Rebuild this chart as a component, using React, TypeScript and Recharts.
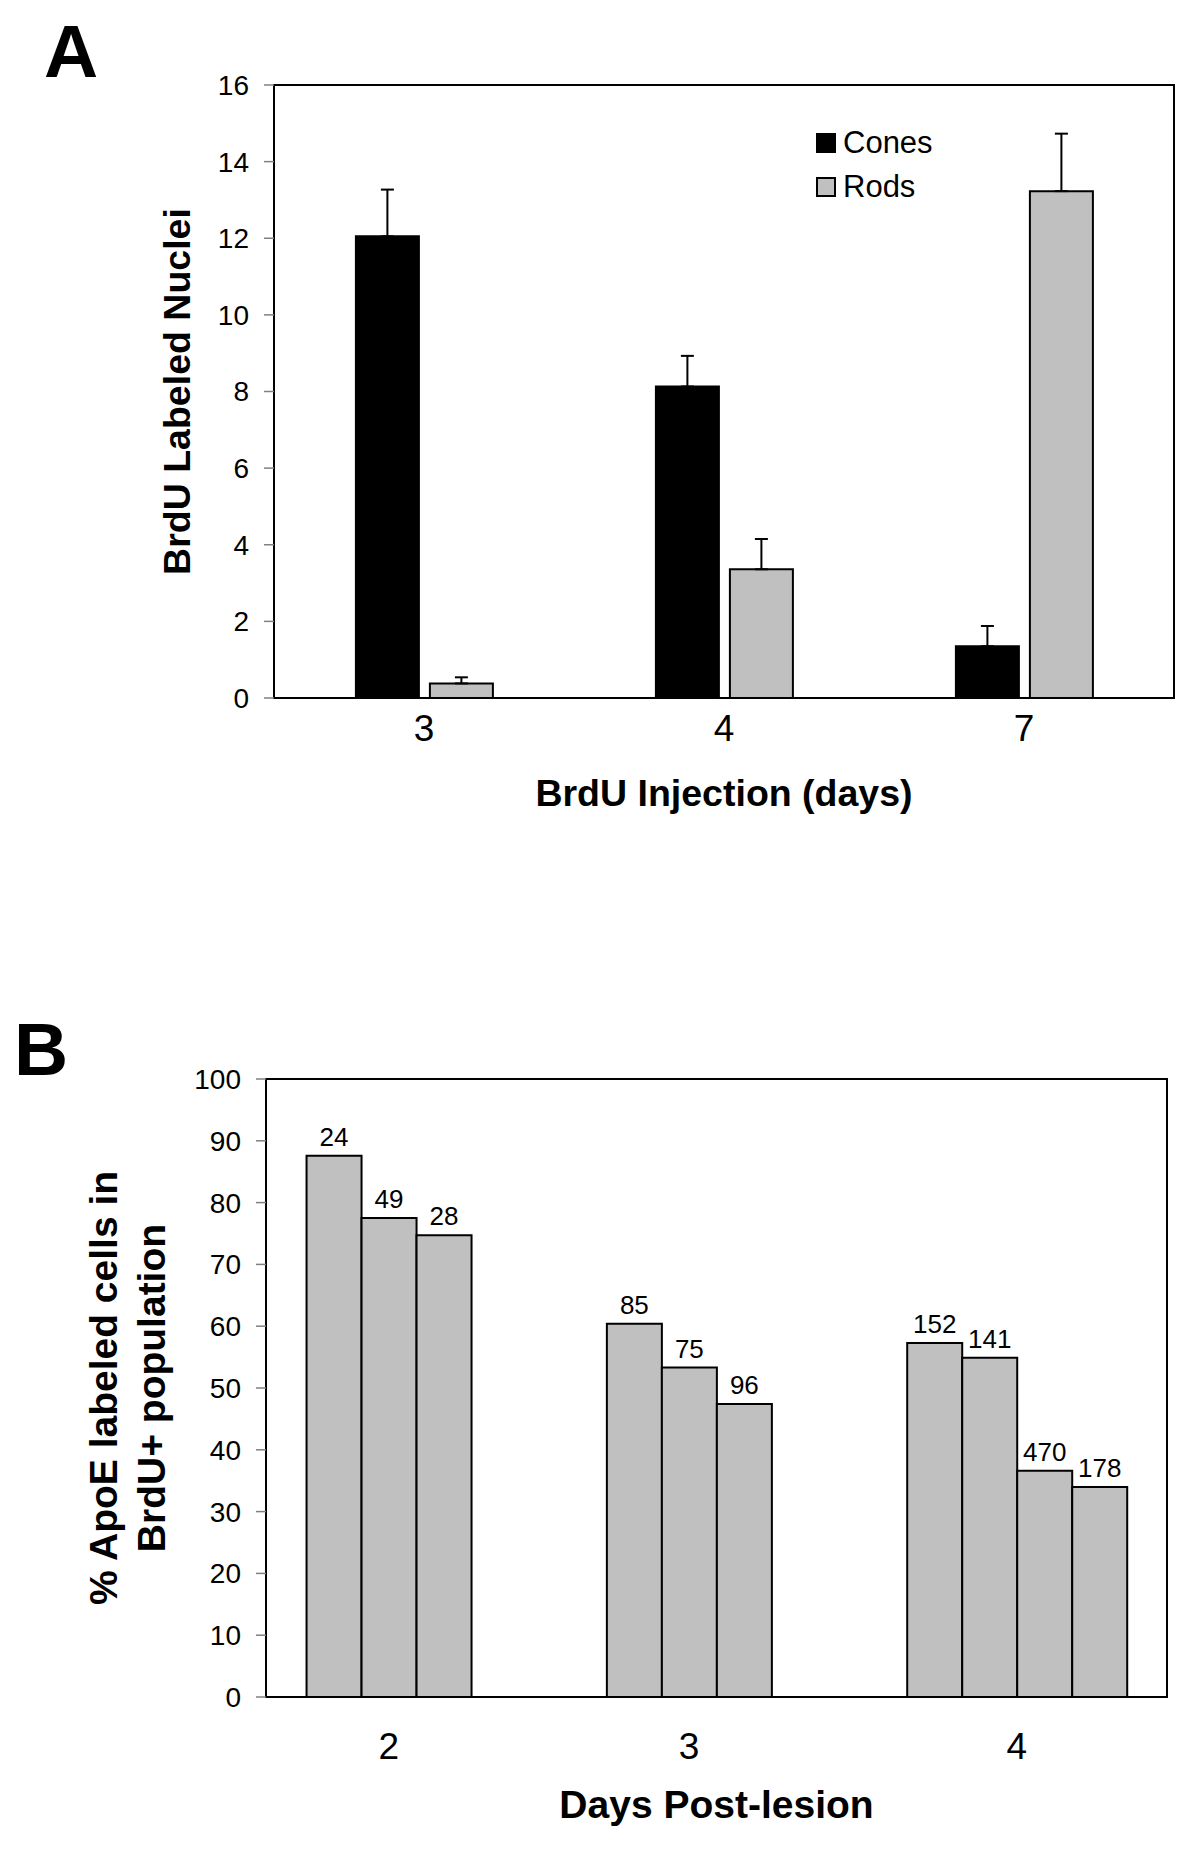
import React from 'react'
import {
  BarChart, Bar, XAxis, YAxis, ErrorBar, LabelList, Legend, ReferenceArea,
} from 'recharts'

const FONT = '"Liberation Sans", Arial, Helvetica, sans-serif'
const GRAY = '#c0c0c0'

// Panel A: BrdU labeled nuclei
const injectionDays = ['3', '4', '7']
const cones = [12.05, 8.13, 1.35]
const conesErr = [1.22, 0.8, 0.53]
const rods = [0.38, 3.36, 13.23]
const rodsErr = [0.16, 0.79, 1.5]
const ticksA = [0, 2, 4, 6, 8, 10, 12, 14, 16]

// Panel B: % ApoE labeled cells, n shown above each bar
const lesionDays = ['2', '3', '4']
const apoe1 = [87.6, 60.4, 57.3]
const apoe2 = [77.5, 53.3, 54.9]
const apoe3 = [74.7, 47.4, 36.6]
const apoe4 = [null, null, 34.0]
const n1 = [24, 85, 152]
const n2 = [49, 75, 141]
const n3 = [28, 96, 470]
const n4 = [null, null, 178]
const ticksB = [0, 10, 20, 30, 40, 50, 60, 70, 80, 90, 100]

const dataA = injectionDays.map((day, i) => ({
  day,
  cones: cones[i],
  conesErr: [0, conesErr[i]],
  rods: rods[i],
  rodsErr: [0, rodsErr[i]],
}))

const seriesB = [apoe1, apoe2, apoe3, apoe4]
const countsB = [n1, n2, n3, n4]
const dataB = lesionDays.map((day, i) => {
  const row: any = { day }
  seriesB.forEach((s, k) => {
    row[`p${k}`] = s[i]
    row[`n${k}`] = countsB[k][i]
  })
  return row
})
const barsPerDayB = lesionDays.map((_, i) => seriesB.filter((s) => s[i] != null).length)
const GAP_B = 0.135

const DayTickA = ({ x, y, payload }: any) => (
  <text x={x} y={y} dy="0.71em" textAnchor="middle" fontSize={37} fill="#000" fontFamily={FONT}>
    {payload.value}
  </text>
)

// labels sit under the bars actually drawn in each group
const DayTickB = ({ x, y, payload }: any) => {
  const band = (payload?.offset ?? 150) * 2
  const barW = (band * (1 - 2 * GAP_B)) / seriesB.length
  const idx = lesionDays.indexOf(String(payload.value))
  const shift = -((seriesB.length - (barsPerDayB[idx] ?? seriesB.length)) * barW) / 2
  return (
    <text x={x + shift} y={y} dy="0.71em" textAnchor="middle" fontSize={37} fill="#000" fontFamily={FONT}>
      {payload.value}
    </text>
  )
}

const xTitle = (text: string, dy: number, size: number) => (props: any) => {
  const vb = props.viewBox ?? props
  return (
    <text x={vb.x + vb.width / 2} y={vb.y + dy} textAnchor="middle" fontSize={size} fontWeight="bold" fill="#000" fontFamily={FONT}>
      {text}
    </text>
  )
}

const yTitle = (lines: string[], xs: number[], size: number) => (props: any) => {
  const vb = props.viewBox ?? props
  const cy = vb.y + vb.height / 2
  return (
    <g>
      {lines.map((t, i) => {
        const cx = vb.x + xs[i]
        return (
          <text key={i} x={cx} y={cy} transform={`rotate(-90 ${cx} ${cy})`} textAnchor="middle" fontSize={size} fontWeight="bold" fill="#000" fontFamily={FONT}>
            {t}
          </text>
        )
      })}
    </g>
  )
}

const LegendA = ({ payload }: any) => {
  const items = payload && payload.length
    ? payload.map((p: any) => ({ name: p.value, color: p.color }))
    : [{ name: 'Cones', color: '#000' }, { name: 'Rods', color: GRAY }]
  return (
    <div style={{ fontFamily: FONT, fontSize: 31, color: '#000' }}>
      {items.map((it: any) => (
        <div key={it.name} style={{ display: 'flex', alignItems: 'center', height: 44 }}>
          <span style={{ width: 20, height: 20, boxSizing: 'border-box', border: '2px solid #000', background: it.color, flexShrink: 0 }} />
          <span style={{ marginLeft: 7, lineHeight: '44px' }}>{it.name}</span>
        </div>
      ))}
    </div>
  )
}

const axisLine = { stroke: '#000', strokeWidth: 2 }
const yTickLine = { stroke: '#808080', strokeWidth: 1.5 }

export default function App() {
  return (
    <div style={{ position: 'relative', width: 1200, height: 1853, background: '#fff', fontFamily: FONT, overflow: 'hidden' }}>
      <style>{'body{margin:0}'}</style>

      <div style={{ position: 'absolute', left: 44, top: 13.5, fontSize: 75, fontWeight: 'bold', lineHeight: '75px' }}>A</div>
      <div style={{ position: 'absolute', left: 14, top: 1011.5, fontSize: 75, fontWeight: 'bold', lineHeight: '75px' }}>B</div>

      <div style={{ position: 'absolute', left: 0, top: 0 }}>
        <BarChart width={1200} height={860} data={dataA} margin={{ top: 85, right: 26, left: 0, bottom: 0 }} barCategoryGap="27.3%" barGap={11}>
          <ReferenceArea y1={0} y2={16} fill="none" stroke="#000" strokeWidth={2} />
          <XAxis dataKey="day" height={162} axisLine={axisLine} tickLine={false} tickSize={0} tickMargin={17} tick={DayTickA}
            label={xTitle('BrdU Injection (days)', 108, 37.5)} />
          <YAxis width={274} domain={[0, 16]} ticks={ticksA} interval={0} axisLine={axisLine} tickLine={yTickLine} tickSize={10} tickMargin={15}
            tick={{ fill: '#000', fontSize: 28, fontFamily: FONT }}
            label={yTitle(['BrdU Labeled Nuclei'], [190], 37.5)} />
          <Legend layout="vertical" align="center" verticalAlign="middle" content={LegendA}
            wrapperStyle={{ left: 816, top: 121, width: 200, height: 88 }} />
          <Bar dataKey="cones" name="Cones" fill="#000" stroke="#000" strokeWidth={2} isAnimationActive={false}>
            <ErrorBar dataKey="conesErr" width={6.5} stroke="#000" strokeWidth={2} direction="y" isAnimationActive={false} />
          </Bar>
          <Bar dataKey="rods" name="Rods" fill={GRAY} stroke="#000" strokeWidth={2} isAnimationActive={false}>
            <ErrorBar dataKey="rodsErr" width={6.5} stroke="#000" strokeWidth={2} direction="y" isAnimationActive={false} />
          </Bar>
        </BarChart>
      </div>

      <div style={{ position: 'absolute', left: 0, top: 900 }}>
        <BarChart width={1200} height={953} data={dataB} margin={{ top: 179, right: 33, left: 0, bottom: 0 }} barCategoryGap={`${GAP_B * 100}%`} barGap={0}>
          <ReferenceArea y1={0} y2={100} fill="none" stroke="#000" strokeWidth={2} />
          <XAxis dataKey="day" height={156} axisLine={axisLine} tickLine={false} tickSize={0} tickMargin={36} tick={DayTickB}
            label={xTitle('Days Post-lesion', 121, 39)} />
          <YAxis width={266} domain={[0, 100]} ticks={ticksB} interval={0} axisLine={axisLine} tickLine={yTickLine} tickSize={10} tickMargin={15}
            tick={{ fill: '#000', fontSize: 28, fontFamily: FONT }}
            label={yTitle(['% ApoE labeled cells in', 'BrdU+ population'], [117, 165], 39)} />
          {seriesB.map((_, k) => (
            <Bar key={k} dataKey={`p${k}`} fill={GRAY} stroke="#000" strokeWidth={2} isAnimationActive={false}>
              <LabelList dataKey={`n${k}`} position="top" offset={10} fontSize={26} fill="#000" fontFamily={FONT} />
            </Bar>
          ))}
        </BarChart>
      </div>
    </div>
  )
}
